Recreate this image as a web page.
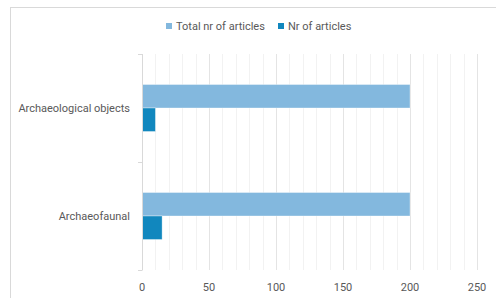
<!DOCTYPE html>
<html>
<head>
<meta charset="utf-8">
<script src="https://cdn.jsdelivr.net/npm/d3@7"></script>
<style>
  body { margin: 0; background: #fff; }
  text { font-family: Roboto, "Noto Sans", sans-serif; fill: #595959; }
</style>
</head>
<body>
<div id="chart"></div>
<script>
(function () {
  "use strict";

  // data (top category first)
  const categories = ["Archaeological objects", "Archaeofaunal"];
  const seriesNames = ["Total nr of articles", "Nr of articles"];
  const totalArticles = [200, 200];
  const nrArticles = [10, 15];
  const xTicks = [0, 50, 100, 150, 200, 250];
  const seriesColors = ["#83B8DE", "#1187BE"];

  const width = 496;
  const height = 298;
  const margin = { top: 54, right: 19, bottom: 28, left: 142 };

  const rows = categories.map((c, i) => ({
    category: c,
    values: [totalArticles[i], nrArticles[i]]
  }));

  const svg = d3
    .select("#chart")
    .append("svg")
    .attr("width", width)
    .attr("height", height);

  // chart area border (runs off the right and bottom of the shot)
  svg
    .append("rect")
    .attr("x", 10.5)
    .attr("y", 7.5)
    .attr("width", width + 20)
    .attr("height", height + 20)
    .attr("fill", "none")
    .attr("stroke", "#d9d9d9");

  const x = d3
    .scaleLinear()
    .domain([0, 250])
    .range([margin.left, width - margin.right]);

  const y = d3
    .scaleBand()
    .domain(categories)
    .range([margin.top, height - margin.bottom])
    .paddingInner(0.565)
    .paddingOuter(0.2825);

  const ySeries = d3
    .scaleBand()
    .domain(seriesNames)
    .range([0, y.bandwidth()]);

  const top = margin.top;
  const bottom = height - margin.bottom;

  // minor gridlines every 10
  svg
    .append("g")
    .selectAll("line")
    .data(d3.range(10, 251, 10).filter((d) => d % 50 !== 0))
    .join("line")
    .attr("x1", (d) => Math.round(x(d)) + 0.5)
    .attr("x2", (d) => Math.round(x(d)) + 0.5)
    .attr("y1", top)
    .attr("y2", bottom)
    .attr("stroke", "#f2f2f2");

  // major gridlines
  svg
    .append("g")
    .selectAll("line")
    .data(xTicks.slice(1))
    .join("line")
    .attr("x1", (d) => Math.round(x(d)) + 0.5)
    .attr("x2", (d) => Math.round(x(d)) + 0.5)
    .attr("y1", top)
    .attr("y2", bottom)
    .attr("stroke", "#e4e4e4");

  // bars
  const group = svg
    .append("g")
    .selectAll("g")
    .data(rows)
    .join("g")
    .attr("transform", (d) => `translate(0,${y(d.category)})`);

  group
    .selectAll("rect")
    .data((d) => d.values.map((v, i) => ({ name: seriesNames[i], value: v, i: i })))
    .join("rect")
    .attr("x", x(0))
    .attr("y", (d) => ySeries(d.name))
    .attr("width", (d) => x(d.value) - x(0))
    .attr("height", ySeries.bandwidth())
    .attr("fill", (d) => seriesColors[d.i])
    .attr("stroke", "#ffffff")
    .attr("stroke-opacity", 0.5)
    .attr("stroke-width", 0.7);

  // category axis
  const yAxis = svg
    .append("g")
    .attr("transform", `translate(${x(0)},0)`);
  yAxis
    .append("line")
    .attr("x1", 0.5)
    .attr("x2", 0.5)
    .attr("y1", top)
    .attr("y2", bottom)
    .attr("stroke", "#d9d9d9");
  const boundaries = [top, (top + bottom) / 2, bottom];
  yAxis
    .selectAll(".tick")
    .data(boundaries)
    .join("line")
    .attr("x1", -4)
    .attr("x2", 0.5)
    .attr("y1", (d) => Math.round(d) + 0.5)
    .attr("y2", (d) => Math.round(d) + 0.5)
    .attr("stroke", "#d9d9d9");
  yAxis
    .selectAll("text")
    .data(categories)
    .join("text")
    .attr("x", -12)
    .attr("y", (d) => y(d) + y.bandwidth() / 2)
    .attr("dy", "0.35em")
    .attr("text-anchor", "end")
    .style("font-size", "11px")
    .text((d) => d);

  // value axis labels
  svg
    .append("g")
    .selectAll("text")
    .data(xTicks)
    .join("text")
    .attr("x", (d) => x(d))
    .attr("y", 287)
    .attr("dy", "0.35em")
    .attr("text-anchor", "middle")
    .style("font-size", "11px")
    .text((d) => d);

  // legend
  const legendX = [166, 278];
  const legend = svg
    .append("g")
    .selectAll("g")
    .data(seriesNames)
    .join("g")
    .attr("transform", (d, i) => `translate(${legendX[i]},23)`);
  legend
    .append("rect")
    .attr("width", 6)
    .attr("height", 6)
    .attr("fill", (d, i) => seriesColors[i]);
  legend
    .append("text")
    .attr("x", 10)
    .attr("y", 3)
    .attr("dy", "0.35em")
    .style("font-size", "11px")
    .text((d) => d);
})();
</script>
</body>
</html>
